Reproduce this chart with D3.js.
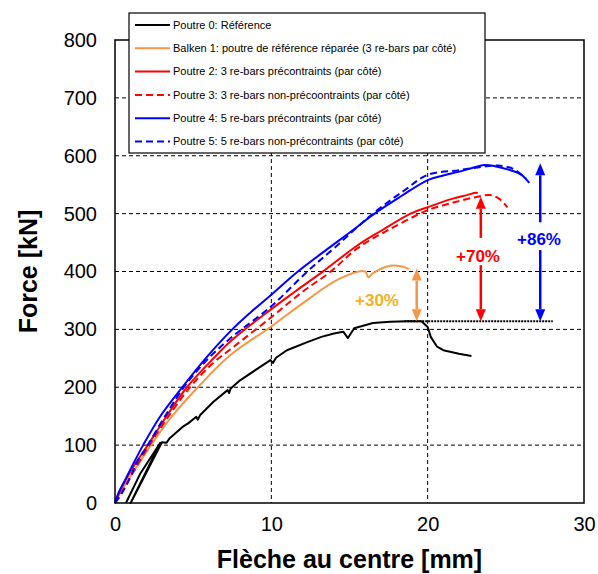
<!DOCTYPE html>
<html lang="fr">
<head>
<meta charset="utf-8">
<title>Force - flèche</title>
<script src="https://cdn.jsdelivr.net/npm/d3@7"></script>
<style>
  body { margin: 0; background: #fff; }
  text { font-family: Arial, "Liberation Sans", sans-serif; }
</style>
</head>
<body>
<script>
// data (x: mm, y: kN)
var xTicks = [0, 10, 20, 30];
var yTicks = [0, 100, 200, 300, 400, 500, 600, 700, 800];

var p0x = [0.7, 1.6, 2.9, 2.0, 1.0, 2.0, 3.0, 3.3, 3.5, 4.3, 4.7, 5.2, 5.3, 5.45, 6.3, 7.2, 7.3, 7.4, 8.0, 9.0, 9.94, 10.1, 10.3, 11.0, 12.3, 13.2, 14.0, 14.6, 14.9, 15.3, 16.5, 17.6, 18.7, 19.6, 20.0, 20.2, 20.6, 21.0, 22.0, 22.8];
var p0y = [0, 50, 104, 55, 0, 52, 105, 104, 112, 131, 138, 149, 144, 152, 175, 195, 190, 198, 212, 230, 247, 242, 251, 264, 278, 287, 293, 296, 285, 302, 311, 313, 314, 314, 304, 287, 270, 264, 258, 254];

var p1x = [0, 0.5, 1.2, 2.3, 3.5, 5.3, 7.4, 10.0, 12.0, 14.4, 16.0, 16.2, 16.5, 17.6, 18.3, 18.8];
var p1y = [0, 25, 55, 100, 145, 200, 256, 305, 345, 388, 400, 390, 397, 410, 409, 404];

var p2x = [0, 0.4, 1.0, 2.1, 3.3, 4.6, 6.3, 7.5, 10.0, 11.5, 13.4, 15.5, 17.0, 18.9, 20.0, 21.5, 22.5, 23.1, 23.2];
var p2y = [0, 25, 55, 100, 150, 200, 250, 282, 335, 365, 402, 445, 470, 500, 511, 525, 532, 536, 535];

var p3x = [0, 0.5, 1.1, 2.2, 3.3, 4.8, 6.2, 7.5, 10.0, 12.0, 13.8, 15.5, 17.5, 19.5, 20.0, 21.5, 23.0, 24.0, 24.6, 25.1];
var p3y = [0, 22, 50, 100, 145, 200, 240, 268, 321, 365, 400, 440, 472, 500, 506, 518, 528, 532, 525, 511];

var p4x = [0, 0.25, 0.65, 1.1, 1.8, 2.9, 4.3, 5.8, 7.5, 8.7, 10.0, 11.7, 13.8, 15.1, 16.6, 18.3, 20.0, 21.0, 22.1, 23.0, 23.6, 24.3, 25.3, 26.0, 26.5];
var p4y = [0, 19, 40, 64, 100, 150, 200, 250, 300, 330, 360, 400, 443, 469, 500, 530, 558, 566, 573, 580, 584, 582, 575, 567, 553];

var p5x = [0, 0.4, 0.9, 1.4, 2.1, 3.2, 4.4, 5.8, 7.4, 10.0, 12.3, 14.0, 16.5, 18.5, 20.0, 22.0, 23.5, 24.5, 25.5, 26.3];
var p5y = [0, 15, 40, 70, 100, 150, 200, 245, 285, 340, 400, 440, 500, 540, 567, 575, 581, 583, 577, 560];

var names = [
  "Poutre 0: Référence",
  "Balken 1: poutre de référence réparée (3 re-bars par côté)",
  "Poutre 2: 3 re-bars précontraints (par côté)",
  "Poutre 3: 3 re-bars non-précoontraints (par côté)",
  "Poutre 4: 5 re-bars précontraints (par côté)",
  "Poutre 5: 5 re-bars non-précontraints (par côté)"
];
var colors = ["#000000", "#F79646", "#FF0000", "#FF0000", "#0000FF", "#0000FF"];
var dashed = [false, false, false, true, false, true];
var xs = [p0x, p1x, p2x, p3x, p4x, p5x];
var ys = [p0y, p1y, p2y, p3y, p4y, p5y];

// reference level and gains
var refLevel = 314;
var refFrom = 18.5, refTo = 28.0;
var gainLabels = ["+30%", "+70%", "+86%"];
var gainX = [19.3, 23.4, 27.2];
var gainTop = [405, 529, 587];
var gainColors = ["#F79646", "#FF0000", "#0000FF"];
var labelColors = ["#F5B027", "#FF0000", "#0000FF"];

var W = 598, H = 574;
var mLeft = 115, mRight = 584, mTop = 40, mBottom = 503;

var svg = d3.select("body").append("svg")
  .attr("width", W).attr("height", H);

var x = d3.scaleLinear().domain([0, 30]).range([mLeft, mRight]);
var y = d3.scaleLinear().domain([0, 800]).range([mBottom, mTop]);

// grid
svg.append("g").selectAll("line")
  .data(yTicks.filter(function(d) { return d > 0 && d < 800; }))
  .enter().append("line")
  .attr("x1", mLeft).attr("x2", mRight)
  .attr("y1", function(d) { return y(d); }).attr("y2", function(d) { return y(d); })
  .attr("stroke", "#000").attr("stroke-width", 1).attr("stroke-dasharray", "4,3");

svg.append("g").selectAll("line")
  .data(xTicks.filter(function(d) { return d > 0 && d < 30; }))
  .enter().append("line")
  .attr("y1", mTop).attr("y2", mBottom)
  .attr("x1", function(d) { return x(d); }).attr("x2", function(d) { return x(d); })
  .attr("stroke", "#000").attr("stroke-width", 1).attr("stroke-dasharray", "4,3");

// axes (labels only, no ticks)
var xAxis = svg.append("g").attr("transform", "translate(0," + mBottom + ")")
  .call(d3.axisBottom(x).tickValues(xTicks).tickSize(0).tickPadding(14));
var yAxis = svg.append("g").attr("transform", "translate(" + mLeft + ",0)")
  .call(d3.axisLeft(y).tickValues(yTicks).tickSize(0).tickPadding(18));
[xAxis, yAxis].forEach(function(a) {
  a.select(".domain").remove();
  a.selectAll("text").attr("font-size", "20px").attr("fill", "#000")
    .attr("font-family", "Arial, 'Liberation Sans', sans-serif");
});

// curves: reference beam keeps its sharp notches, the others are smoothed
var lineSharp = d3.line()
  .x(function(d) { return x(d[0]); })
  .y(function(d) { return y(d[1]); });
var lineSmooth = d3.line()
  .curve(d3.curveCatmullRom.alpha(0.5))
  .x(function(d) { return x(d[0]); })
  .y(function(d) { return y(d[1]); });

xs.forEach(function(arr, i) {
  var pts = arr.map(function(v, j) { return [v, ys[i][j]]; });
  svg.append("path")
    .datum(pts)
    .attr("d", i === 0 ? lineSharp : lineSmooth)
    .attr("fill", "none")
    .attr("stroke", colors[i])
    .attr("stroke-width", 2)
    .attr("stroke-linejoin", "round")
    .attr("stroke-dasharray", dashed[i] ? "7,4" : null);
});

// reference line
svg.append("line")
  .attr("x1", x(refFrom)).attr("x2", x(refTo))
  .attr("y1", y(refLevel)).attr("y2", y(refLevel))
  .attr("stroke", "#000").attr("stroke-width", 1.8).attr("stroke-dasharray", "2,1");

// double arrows with gaps for the text
var gaps = [null, [411, 458], [437, 485]];
var labelY = [300, 256, 239];
var labelX = [377, 478, 539];

gainX.forEach(function(gx, i) {
  var px = x(gx), y0 = y(refLevel), y1 = y(gainTop[i]);
  var g = svg.append("g").attr("stroke", gainColors[i]).attr("fill", gainColors[i]);
  var head = 12, hw = 5;
  var segs = gaps[i] ? [[y1 + head, y(gaps[i][1])], [y(gaps[i][0]), y0 - head]] : [[y1 + head, y0 - head]];
  segs.forEach(function(s) {
    g.append("line").attr("x1", px).attr("x2", px).attr("y1", s[0]).attr("y2", s[1])
      .attr("stroke-width", 2.5);
  });
  g.append("path").attr("stroke", "none")
    .attr("d", "M" + px + "," + y1 + "L" + (px - hw) + "," + (y1 + head) + "L" + (px + hw) + "," + (y1 + head) + "Z");
  g.append("path").attr("stroke", "none")
    .attr("d", "M" + px + "," + y0 + "L" + (px - hw) + "," + (y0 - head) + "L" + (px + hw) + "," + (y0 - head) + "Z");
  svg.append("text")
    .attr("x", labelX[i]).attr("y", labelY[i])
    .attr("dy", "0.35em")
    .attr("text-anchor", "middle")
    .attr("font-size", "17px").attr("font-weight", "bold")
    .attr("fill", labelColors[i])
    .text(gainLabels[i]);
});

// frame
svg.append("rect")
  .attr("x", mLeft).attr("y", mTop)
  .attr("width", mRight - mLeft).attr("height", mBottom - mTop)
  .attr("fill", "none").attr("stroke", "#000").attr("stroke-width", 1.5);

// legend
var lg = svg.append("g");
lg.append("rect")
  .attr("x", 129).attr("y", 13).attr("width", 356).attr("height", 140)
  .attr("fill", "#fff").attr("stroke", "#000").attr("stroke-width", 1.2);
names.forEach(function(n, i) {
  var ly = 25 + i * 23.3;
  lg.append("line")
    .attr("x1", 135).attr("x2", 170).attr("y1", ly).attr("y2", ly)
    .attr("stroke", colors[i]).attr("stroke-width", 2)
    .attr("stroke-dasharray", dashed[i] ? "7,4" : null);
  lg.append("text")
    .attr("x", 173).attr("y", ly).attr("dy", "0.35em")
    .attr("font-size", "11px").attr("fill", "#000")
    .text(n);
});

// axis titles
svg.append("text")
  .attr("x", (mLeft + mRight) / 2).attr("y", 559).attr("dy", "0.35em")
  .attr("text-anchor", "middle")
  .attr("font-size", "25px").attr("font-weight", "bold")
  .text("Flèche au centre [mm]");

svg.append("text")
  .attr("transform", "translate(28," + (mTop + mBottom) / 2 + ") rotate(-90)")
  .attr("dy", "0.35em")
  .attr("text-anchor", "middle")
  .attr("font-size", "25px").attr("font-weight", "bold")
  .text("Force [kN]");
</script>
</body>
</html>
